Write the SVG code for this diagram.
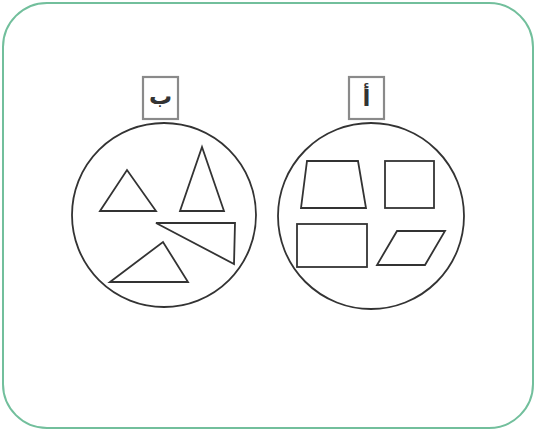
<svg xmlns="http://www.w3.org/2000/svg" width="536" height="431" viewBox="0 0 536 431">
<style>
.frame{fill:#fff;stroke:#72bf9c;stroke-width:2}
.circ{fill:none;stroke:#333;stroke-width:1.8}
.shape{fill:none;stroke:#333;stroke-width:1.8;stroke-linejoin:miter}
.lbox{fill:#fff;stroke:#8a8a8a;stroke-width:2.2}
.lbl{font-family:"DejaVu Sans",sans-serif;font-size:23px;font-weight:bold;fill:#333;text-anchor:middle}
</style>
<rect class="frame" x="3" y="3" width="530" height="425" rx="44" ry="44"/>
<g id="groupB">
<rect class="lbox" x="143" y="77" width="35" height="42"/>
<text class="lbl" x="160.5" y="104">ب</text>
<circle class="circ" cx="164" cy="215" r="92"/>
<polygon class="shape" points="100,211 127,170 156,211"/>
<polygon class="shape" points="180,211 202,147 224,211"/>
<polygon class="shape" points="156,223 235,223 234,264"/>
<polygon class="shape" points="110,282 163,242 188,282"/>
</g>
<g id="groupA">
<rect class="lbox" x="349" y="77" width="35" height="42"/>
<text class="lbl" x="366.5" y="106">أ</text>
<circle class="circ" cx="371" cy="216" r="93"/>
<polygon class="shape" points="307,161 358,161 366,208 301,208"/>
<rect class="shape" x="385" y="161" width="49" height="47"/>
<rect class="shape" x="297" y="224" width="70" height="43"/>
<polygon class="shape" points="397,231 445,231 425,265 377,265"/>
</g>
<g id="connectors"/>
</svg>
